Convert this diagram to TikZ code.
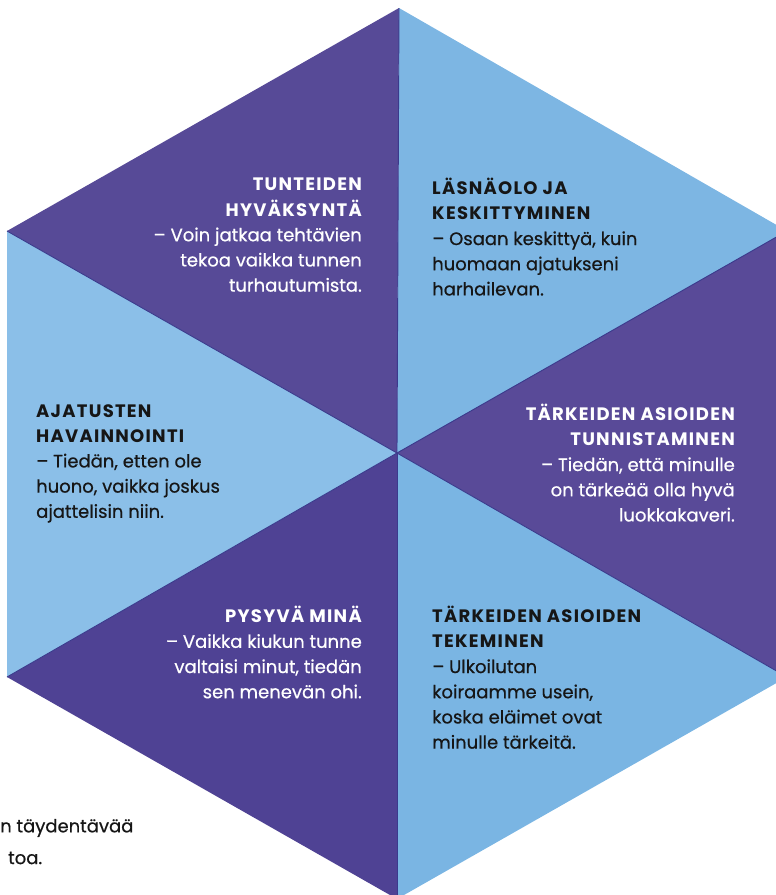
\documentclass[tikz,border=0pt]{standalone}
\usepackage{fontspec}
\setmainfont{Poppins}[UprightFeatures={FakeBold=0.6}]
\newfontfamily\headfont[LetterSpace=7]{Poppins}
\definecolor{purpA}{HTML}{574A97}
\definecolor{purpB}{HTML}{594A98}
\definecolor{purpC}{HTML}{4F4294}
\definecolor{blueA}{HTML}{7DB6E3}
\definecolor{blueB}{HTML}{8BBFE8}
\definecolor{blueC}{HTML}{7AB5E3}
\definecolor{spoke}{HTML}{3B3A8C}
\definecolor{ink}{HTML}{161616}
\tikzset{
  txt/.style={inner sep=0pt, font=\fontsize{18}{25.2}\selectfont},
  ontxtR/.style={txt, align=right, anchor=north east},
  ontxtL/.style={txt, align=left, anchor=north west},
  spokeline/.style={draw=spoke, line width=0.9pt}
}
\newcommand{\hd}[1]{{\headfont\bfseries #1}}
\begin{document}
\begin{tikzpicture}[x=1pt,y=-1pt]
\useasboundingbox (0,0) rectangle (776,895);
\begin{scope}
\clip (0,0) rectangle (776,895);
\coordinate (C) at (397,453);
\coordinate (T) at (399,8);
\coordinate (UL) at (7,231);
\coordinate (LL) at (7,677);
\coordinate (B) at (397,899);
\coordinate (LR) at (787,677);
\coordinate (UR) at (787,231);
\fill[purpA] (C) -- (UL) -- (T) -- cycle;
\fill[blueA] (C) -- (T) -- (UR) -- cycle;
\fill[purpB] (C) -- (UR) -- (LR) -- cycle;
\fill[blueC] (C) -- (LR) -- (B) -- cycle;
\fill[purpC] (C) -- (B) -- (LL) -- cycle;
\fill[blueB] (C) -- (LL) -- (UL) -- cycle;
\draw[spokeline] (C) -- (T);
\draw[spokeline] (C) -- (UL);
\draw[spokeline] (C) -- (LL);
\draw[spokeline] (C) -- (B);
\draw[spokeline] (C) -- (LR);
\draw[spokeline] (C) -- (UR);

\node[ontxtR, text=white] (t1) at (362,178) {\hd{TUNTEIDEN}\\ \hd{HYVÄKSYNTÄ}\\ – Voin jatkaa tehtävien\\ tekoa vaikka tunnen\\ turhautumista.};
\node[ontxtL, text=ink] (t2) at (432,178) {\hd{LÄSNÄOLO JA}\\ \hd{KESKITTYMINEN}\\ – Osaan keskittyä, kuin\\ huomaan ajatukseni\\ harhailevan.};
\node[ontxtL, text=ink] (t3) at (36,404) {\hd{AJATUSTEN}\\ \hd{HAVAINNOINTI}\\ – Tiedän, etten ole\\ huono, vaikka joskus\\ ajattelisin niin.};
\node[ontxtR, text=white] (t4) at (735,404) {\hd{TÄRKEIDEN ASIOIDEN}\\ \hd{TUNNISTAMINEN}\\ – Tiedän, että minulle\\ on tärkeää olla hyvä\\ luokkakaveri.};
\node[ontxtR, text=white] (t5) at (362,606) {\hd{PYSYVÄ MINÄ}\\ – Vaikka kiukun tunne\\ valtaisi minut, tiedän\\ sen menevän ohi.};
\node[ontxtL, text=ink] (t6) at (432,606) {\hd{TÄRKEIDEN ASIOIDEN}\\ \hd{TEKEMINEN}\\ – Ulkoilutan\\ koiraamme usein,\\ koska eläimet ovat\\ minulle tärkeitä.};
\node[txt, anchor=west, text=ink] (f1) at (0,828) {n täydentävää};
\node[txt, anchor=west, text=ink] (f2) at (8,858) {toa.};
\end{scope}
\end{tikzpicture}
\end{document}
